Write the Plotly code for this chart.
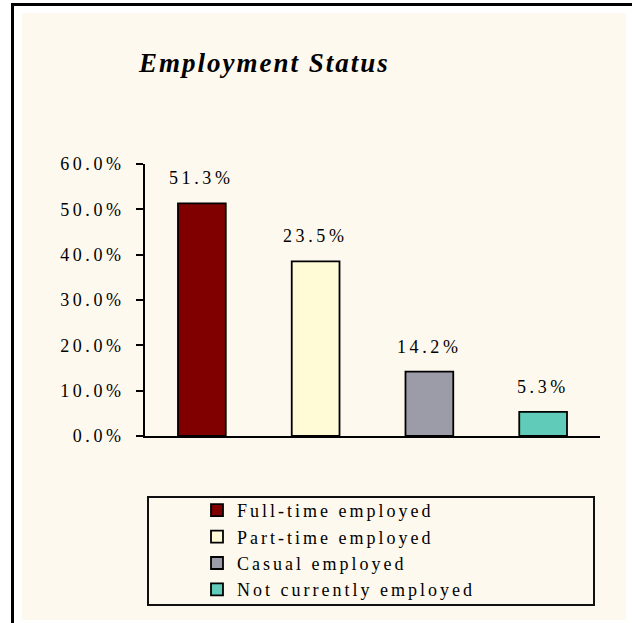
import plotly.graph_objects as go

# ---- data ----
categories = ["Full-time employed", "Part-time employed", "Casual employed", "Not currently employed"]
values = [51.3, 38.5, 14.2, 5.3]
value_labels = ["51.3%", "23.5%", "14.2%", "5.3%"]
tick_values = [0, 10, 20, 30, 40, 50, 60]
tick_labels = ["0.0%", "10.0%", "20.0%", "30.0%", "40.0%", "50.0%", "60.0%"]
colors = ["#800000", "#FFFBD6", "#9C9CA8", "#5FCBB8"]
title_text = "Employment Status"

# ---- layout geometry (pixels) ----
WIDTH, HEIGHT = 632, 623
L, R_EDGE, T, B_EDGE = 145, 600, 164, 436
PW, PH = R_EDGE - L, B_EDGE - T
FONT = "Liberation Serif, Times New Roman, Times, serif"
CREAM = "#FEF9EF"


def px_x(p):
    return (p - L) / PW


def px_y(p):
    return (B_EDGE - p) / PH


def spaced(s, sp):
    return f'<span style="letter-spacing:{sp}px">{s}</span>'


fig = go.Figure()
for cat, val, col in zip(categories, values, colors):
    fig.add_trace(go.Bar(
        x=[cat], y=[val], name=spaced(cat, 3),
        marker=dict(color=col, line=dict(color="black", width=1.8)),
        width=0.42, hoverinfo="skip",
    ))

for cat, val, lab in zip(categories, values, value_labels):
    fig.add_annotation(x=cat, y=val, text=spaced(lab, 3.6), showarrow=False,
                       yshift=25, xshift=0, font=dict(family=FONT, size=18, color="black"))

shapes = [
    # cream chart area
    dict(type="rect", xref="paper", yref="paper", x0=px_x(22), x1=px_x(626),
         y0=px_y(620), y1=px_y(13), fillcolor=CREAM, line=dict(width=0), layer="below"),
    # black frame lines (top and left)
    dict(type="line", xref="paper", yref="paper", x0=px_x(11), x1=px_x(632),
         y0=px_y(4.5), y1=px_y(4.5), line=dict(color="black", width=3)),
    dict(type="line", xref="paper", yref="paper", x0=px_x(12.5), x1=px_x(12.5),
         y0=px_y(3), y1=px_y(623), line=dict(color="black", width=3)),
    # legend box
    dict(type="rect", xref="paper", yref="paper", x0=px_x(148), x1=px_x(594),
         y0=px_y(605), y1=px_y(497), line=dict(color="#111111", width=2),
         fillcolor="rgba(0,0,0,0)"),
]

fig.update_layout(
    width=WIDTH, height=HEIGHT,
    margin=dict(l=L, r=WIDTH - R_EDGE, t=T, b=HEIGHT - B_EDGE, pad=0),
    paper_bgcolor="white", plot_bgcolor="rgba(0,0,0,0)",
    barmode="overlay",
    showlegend=True,
    legend=dict(x=px_x(197), y=px_y(492), xanchor="left", yanchor="top",
                bgcolor="rgba(0,0,0,0)", borderwidth=0,
                font=dict(family=FONT, size=18, color="black"),
                tracegroupgap=0, itemclick=False, itemdoubleclick=False),
    shapes=shapes,
    font=dict(family=FONT, color="black"),
)

fig.add_annotation(xref="paper", yref="paper", x=px_x(264), y=px_y(63),
                   text=spaced(title_text, 2), showarrow=False,
                   xanchor="center", yanchor="middle",
                   font=dict(family=FONT, size=27, color="black", weight="bold", style="italic"))

fig.update_xaxes(showticklabels=False, ticks="", showgrid=False, zeroline=False,
                 showline=True, linecolor="black", linewidth=1.5)
fig.update_yaxes(range=[0, 60], tickvals=tick_values,
                 ticktext=[spaced(t, 3.6) for t in tick_labels],
                 ticks="outside", ticklen=7, tickwidth=1.5, tickcolor="black",
                 showline=True, linecolor="black", linewidth=1.5,
                 showgrid=False, zeroline=False, ticklabelstandoff=8,
                 tickfont=dict(family=FONT, size=18, color="black"))

fig.write_html("out.html")
